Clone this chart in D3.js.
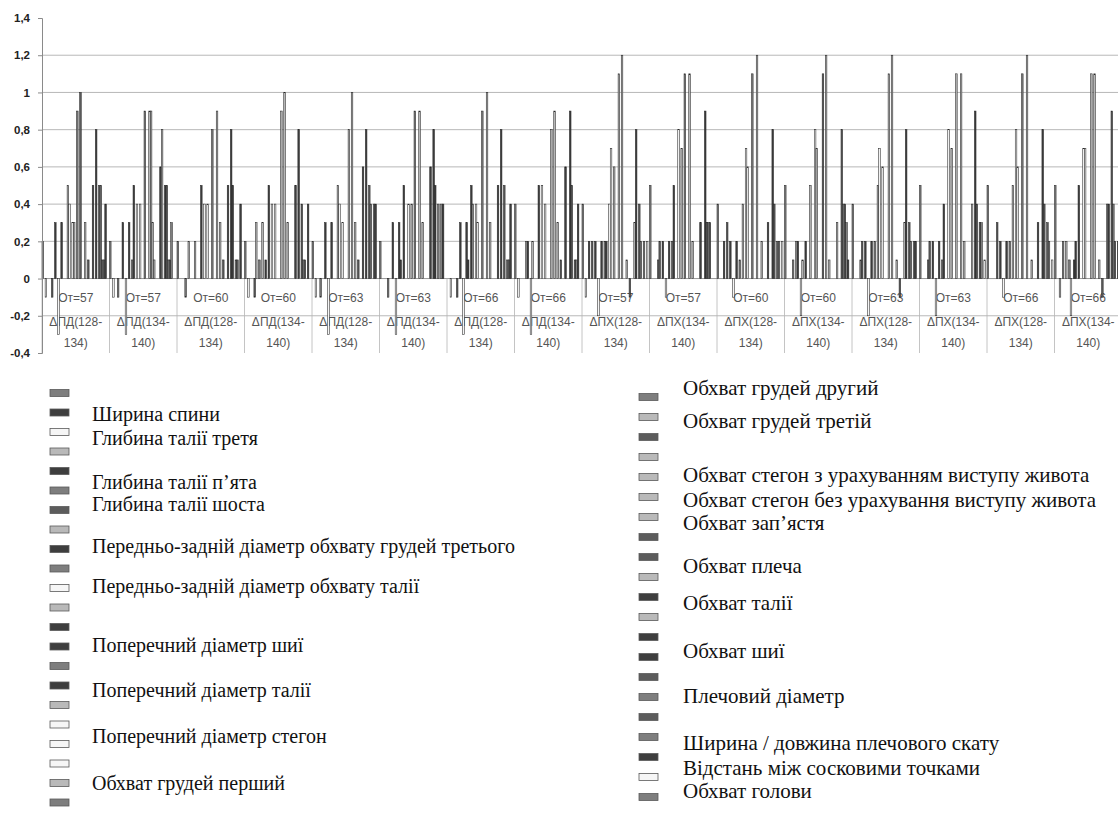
<!DOCTYPE html>
<html>
<head>
<meta charset="utf-8">
<script src="https://cdn.jsdelivr.net/npm/d3@7.9.0/dist/d3.min.js"></script>
<style>
  html, body { margin: 0; background: #fff; }
  svg { display: block; }
</style>
</head>
<body>
<svg id="chart" width="1118" height="823"></svg>
<script>
// ========== Data ==========

// category labels (inner level / outer level)
const innerLabels = ['От=57', 'От=57', 'От=60', 'От=60', 'От=63', 'От=63', 'От=66', 'От=66',
                     'От=57', 'От=57', 'От=60', 'От=60', 'От=63', 'От=63', 'От=66', 'От=66'];
const outerLabels = ['ΔПД(128-134)', 'ΔПД(134-140)', 'ΔПД(128-134)', 'ΔПД(134-140)',
                     'ΔПД(128-134)', 'ΔПД(134-140)', 'ΔПД(128-134)', 'ΔПД(134-140)',
                     'ΔПХ(128-134)', 'ΔПХ(134-140)', 'ΔПХ(128-134)', 'ΔПХ(134-140)',
                     'ΔПХ(128-134)', 'ΔПХ(134-140)', 'ΔПХ(128-134)', 'ΔПХ(134-140)'];

// one value per series (43 series) for every category
const dpd128_57 = [0.2,0,-0.1,0,0,0,-0.1,0,0.3,0, -0.3,0,0.3,0,0,0,0.5,0.4,0,0.3, 0.3,0,0.9,0,1.0,0,0,0.3,0,0.1, 0,0,0.5,0,0.8,0,0.5,0.5,0.1,0.1, 0.4,0,0];
const dpd134_57 = [0.2,0,-0.1,0,0,-0.1,0,0,0.3,0, -0.3,0,0.3,0,0.1,0.5,0,0.4,0,0.4, 0,0,0.9,0,0,0.9,0.9,0.3,0.1,0, 0,0,0.6,0.8,0,0.5,0.5,0.1,0.1,0.3, 0,0,0];
const dpd128_60 = [0.2,0,0,0,0,-0.1,0,0.2,0,0, 0,0.2,0,0,0,0.5,0,0.4,0,0.4, 0,0,0.8,0,0,0.9,0,0.3,0,0.1, 0,0,0.5,0,0.8,0.5,0,0.1,0.1,0, 0.4,0,0];
const dpd134_60 = [0.2,0,-0.1,0,0,0,-0.1,0.3,0,0.1, 0,0.3,0,0.1,0,0.5,0,0.4,0,0.4, 0,0,0,0.9,0,1.0,0,0.3,0,0, 0,0,0.5,0,0.8,0,0.4,0.1,0.1,0, 0.4,0,0];
const dpd128_63 = [0.2,0,-0.1,0,0,-0.1,0,0,0.3,0, -0.3,0,0.3,0,0,0,0.5,0.4,0,0.3, 0,0,0,0.8,0,1.0,0,0.3,0,0.1, 0,0,0.6,0,0.8,0,0.5,0.4,0,0.4, 0.4,0,0];
const dpd134_63 = [0.2,0,0,0,0,-0.1,0,0,0.3,0, -0.3,0,0.3,0.1,0,0.5,0,0,0.4,0, 0.4,0,0.9,0,0,0.9,0,0.3,0,0, 0,0,0.6,0,0.8,0.5,0,0.4,0,0.4, 0.4,0,0];
const dpd128_66 = [0,0,-0.1,0,0,0,-0.1,0,0.3,0, -0.3,0,0.3,0.1,0,0.5,0.4,0,0.4,0.3, 0,0,0.9,0,0,1.0,0,0.3,0,0, 0,0,0.5,0,0.8,0,0.5,0,0.1,0.1, 0.4,0,0];
const dpd134_66 = [0.4,0,-0.1,0,0,0,0,0.2,0.2,0, -0.3,0.2,0,0,0,0.5,0,0.5,0,0.4, 0,0,0,0.8,0,0.9,0,0.3,0,0.1, 0,0,0.6,0,0,0.9,0.5,0,0.1,0.1, 0.4,0,0];
const dph128_57 = [0.4,0,-0.1,0,0.2,0,0.2,0,0.2,0, -0.2,0,0.2,0,0.2,0.2,0,0.4,0.7,0, 0.6,0,0,1.1,0,1.2,0,0,0.1,0, -0.1,0,0,0.3,0.8,0,0.4,0.2,0,0.2, 0,0.2,0];
const dph134_57 = [0.5,0,0,0,0,0.1,0.2,0,0.2,0, -0.1,0,0.2,0,0.2,0.5,0,0,0.8,0, 0.7,0,1.1,0,0,1.1,0,0.2,0,0, 0,0,0.3,0,0,0.9,0.3,0.3,0.3,0, 0,0,0];
const dph128_60 = [0.4,0,0,0,0.2,0,0.3,0,0.2,0, -0.1,0,0.2,0,0.1,0,0.4,0,0.7,0.6, 0,0,1.1,0,0,1.2,0,0,0.2,0, 0,0,0.3,0,0,0.8,0.4,0,0.2,0.2, 0,0.2,0];
const dph134_60 = [0.5,0,0,0,0,0.1,0,0.2,0.2,0, -0.2,0.1,0,0.2,0,0,0.5,0,0,0.8, 0.7,0,0,0,1.1,0,1.2,0,0.1,0, 0,0,0,0.3,0,0,0.8,0.4,0.4,0.3, 0.1,0,0];
const dph128_63 = [0.4,0,0,0,0,0.1,0.2,0,0.2,0, -0.2,0,0.2,0,0.2,0,0.5,0.7,0,0.6, 0,0,0,1.1,0,1.2,0,0,0.1,0, -0.1,0,0,0.3,0.8,0,0.3,0.2,0,0.2, 0.2,0,0];
const dph134_63 = [0.5,0,0,0,0,0.1,0.2,0,0.2,0, -0.2,0,0.2,0,0.1,0.4,0,0,0.8,0, 0.7,0,0,1.1,0,0,1.1,0,0.2,0, 0,0,0,0.4,0,0.9,0.4,0,0.3,0.3, 0,0.1,0];
const dph128_66 = [0.5,0,0,0,0,0,0.3,0,0.2,0, -0.1,0,0.2,0,0.2,0,0.5,0,0.8,0.6, 0,0,1.1,0,0,1.2,0,0,0.1,0, 0,0,0.3,0,0,0.8,0.4,0,0.3,0.2, 0,0.1,0];
const dph134_66 = [0.5,0,0,-0.1,0,0.2,0,0.2,0,0.1, -0.2,0,0.1,0.2,0,0.5,0,0,0.7,0.7, 0,0,0,1.1,0,1.1,0,0,0.1,0, -0.1,0,0,0.4,0.4,0,0.9,0.4,0.2,0, 0.2,0,0];

const groupValues = [dpd128_57, dpd134_57, dpd128_60, dpd134_60, dpd128_63, dpd134_63, dpd128_66, dpd134_66,
                     dph128_57, dph134_57, dph128_60, dph134_60, dph128_63, dph134_63, dph128_66, dph134_66];

const yTicks = [-0.4, -0.2, 0, 0.2, 0.4, 0.6, 0.8, 1, 1.2, 1.4];

// legend swatch tones, left column then right column (one per series)
const legendLeftTones  = ['mid', 'dark', 'white', 'light', 'dark', 'mid', 'darkmid', 'light', 'dark', 'mid', 'white',
                          'light', 'dark', 'dark', 'mid', 'dark', 'light', 'white', 'white', 'white', 'light', 'mid'];
const legendRightTones = ['mid', 'light', 'darkmid', 'light', 'light', 'light', 'light', 'darkmid', 'darkmid', 'light', 'dark',
                          'light', 'dark', 'dark', 'darkmid', 'mid', 'darkmid', 'mid', 'dark', 'white', 'mid'];

const legendLeftNames = ['Ширина спини', 'Глибина талії третя', 'Глибина талії п’ята', 'Глибина талії шоста',
  'Передньо-задній діаметр обхвату грудей третього', 'Передньо-задній діаметр обхвату талії',
  'Поперечний діаметр шиї', 'Поперечний діаметр талії', 'Поперечний діаметр стегон', 'Обхват грудей перший'];
const legendRightNames = ['Обхват грудей другий', 'Обхват грудей третій', 'Обхват стегон з урахуванням виступу живота',
  'Обхват стегон без урахування виступу живота', 'Обхват зап’ястя', 'Обхват плеча', 'Обхват талії',
  'Обхват шиї', 'Плечовий діаметр', 'Ширина / довжина плечового скату', 'Відстань між сосковими точками', 'Обхват голови'];

// ========== Layout ==========

const toneColor = { dark: '#3e3e3e', darkmid: '#5c5c5c', mid: '#7e7e7e', light: '#b9b9b9', white: '#f6f6f6' };
const seriesTones = legendLeftTones.concat(legendRightTones);

const plot = { left: 42, right: 1122, top: 18, bottom: 353 };
const leftLabelY  = [416, 440, 484, 506, 548, 588, 647, 692, 738, 785];
const rightLabelY = [390, 423, 477, 502, 525, 568, 605, 653, 698, 745, 770, 793];

const svg = d3.select('#chart');

// ========== Scales ==========

const x0 = d3.scaleBand()
  .domain(d3.range(groupValues.length))
  .range([plot.left, plot.right])
  .padding(0);

const x1 = d3.scaleBand()
  .domain(d3.range(seriesTones.length))
  .range([0, x0.bandwidth()])
  .padding(0);

const y = d3.scaleLinear()
  .domain([-0.4, 1.4])
  .range([plot.bottom, plot.top]);

// ========== Grid ==========

svg.append('g')
  .selectAll('line')
  .data(yTicks.filter(d => d > -0.4 && d < 1.4))
  .join('line')
  .attr('x1', plot.left).attr('x2', plot.right)
  .attr('y1', d => y(d)).attr('y2', d => y(d))
  .attr('stroke', d => d === 0 ? '#8a8a8a' : '#b0b0b0')
  .attr('stroke-width', 0.9);

// dividers of the category axis (below zero)
svg.append('g')
  .selectAll('line')
  .data(d3.range(groupValues.length + 1))
  .join('line')
  .attr('x1', d => plot.left + d * x0.bandwidth())
  .attr('x2', d => plot.left + d * x0.bandwidth())
  .attr('y1', y(0)).attr('y2', y(-0.4))
  .attr('stroke', '#b5b5b5')
  .attr('stroke-width', 0.8);

// ========== Category labels ==========

const cat = svg.append('g')
  .attr('font-family', 'Liberation Sans, Arial, sans-serif')
  .attr('font-size', 12)
  .attr('fill', '#555')
  .attr('text-anchor', 'middle');

innerLabels.forEach((label, g) => {
  const cx = x0(g) + x0.bandwidth() / 2;
  cat.append('text').attr('x', cx).attr('y', 302).text(label);
  const cut = outerLabels[g].indexOf('-') + 1;
  cat.append('text').attr('x', cx).attr('y', 326).text(outerLabels[g].slice(0, cut));
  cat.append('text').attr('x', cx).attr('y', 347).text(outerLabels[g].slice(cut));
});

// ========== Bars ==========

const groups = svg.append('g')
  .selectAll('g')
  .data(groupValues)
  .join('g')
  .attr('transform', (d, g) => `translate(${x0(g)},0)`);

groups.selectAll('rect')
  .data(d => d.map((v, i) => ({ v, i })).filter(d => d.v !== 0))
  .join('rect')
  .attr('x', d => x1(d.i))
  .attr('width', x1.bandwidth())
  .attr('y', d => y(Math.max(0, d.v)))
  .attr('height', d => Math.abs(y(d.v) - y(0)))
  .attr('fill', d => toneColor[seriesTones[d.i]])
  .attr('stroke', '#262626')
  .attr('stroke-width', 0.55);

// ========== Y axis ==========

const yAxis = svg.append('g')
  .attr('transform', `translate(${plot.left},0)`)
  .call(d3.axisLeft(y)
    .tickValues(yTicks)
    .tickSize(4)
    .tickPadding(8)
    .tickFormat(d => String(d).replace('.', ',')));

yAxis.select('.domain').attr('stroke', '#8a8a8a');
yAxis.selectAll('.tick line').attr('stroke', '#8a8a8a');
yAxis.selectAll('.tick text')
  .attr('font-family', 'Liberation Sans, Arial, sans-serif')
  .attr('font-size', 11.5)
  .attr('font-weight', 'bold')
  .attr('fill', '#222');

// ========== Legend ==========

function drawSwatches(tones, x, yStart, step) {
  svg.append('g')
    .selectAll('rect')
    .data(tones)
    .join('rect')
    .attr('x', x)
    .attr('y', (d, k) => yStart + k * step - 3.5)
    .attr('width', 19)
    .attr('height', 7)
    .attr('fill', d => toneColor[d])
    .attr('stroke', '#5a5a5a')
    .attr('stroke-width', 0.8);
}

drawSwatches(legendLeftTones, 50, 393, 19.5);
drawSwatches(legendRightTones, 639, 397, 20);

function drawNames(names, rows, x, size) {
  svg.append('g')
    .attr('font-family', 'Liberation Serif, Times New Roman, serif')
    .attr('font-size', size)
    .attr('fill', '#111')
    .selectAll('text')
    .data(names)
    .join('text')
    .attr('x', x)
    .attr('y', (d, k) => rows[k])
    .attr('dominant-baseline', 'middle')
    .text(d => d);
}

drawNames(legendLeftNames, leftLabelY, 92, 20);
drawNames(legendRightNames, rightLabelY, 683, 21);
</script>
</body>
</html>
